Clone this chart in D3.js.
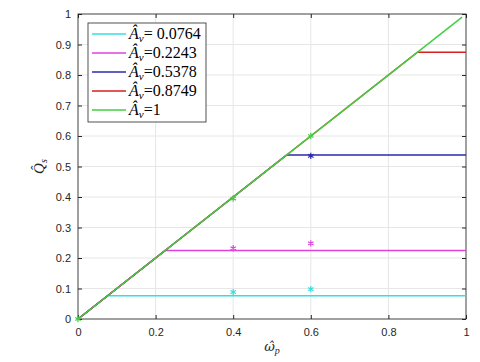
<!DOCTYPE html>
<html>
<head>
<meta charset="utf-8">
<script src="https://cdn.jsdelivr.net/npm/d3@7"></script>
<style>
  body { margin: 0; background: #fff; }
  .tick text { font-family: "Liberation Sans", Arial, sans-serif; font-size: 11px; fill: #262626; }
  .math { font-family: "Liberation Serif", "DejaVu Serif", serif; font-style: italic; }
</style>
</head>
<body>
<svg class="chart"></svg>
<script>
// amplitude levels of each curve
const levels = [0.0764, 0.2243, 0.5378, 0.8749, 1];
const labels = ["= 0.0764", "=0.2243", "=0.5378", "=0.8749", "=1"];
const colors = ["#33e0e0", "#e040e0", "#2a2ab0", "#d42020", "#40d040"];
// starred measurements [x, y, series]
const markX = [0.4, 0.6, 0.4, 0.6, 0.6, 0, 0.4, 0.6];
const markY = [0.088, 0.098, 0.232, 0.248, 0.535, 0, 0.395, 0.6];
const markS = [0, 0, 1, 1, 2, 4, 4, 4];
const xTicks = [0, 0.2, 0.4, 0.6, 0.8, 1];
const yTicks = [0, 0.1, 0.2, 0.3, 0.4, 0.5, 0.6, 0.7, 0.8, 0.9, 1];

const
  margin = {top: 14, right: 14, bottom: 43, left: 78},
  width = 388,
  height = 305;

const xScale = d3.scaleLinear().domain([0, 1]).range([0, width]);
const yScale = d3.scaleLinear().domain([0, 1]).range([height, 0]);

const svg = d3.select(".chart")
  .attr("width", 480)
  .attr("height", 362);

const g = svg.append("g")
  .attr("transform", `translate(${margin.left},${margin.top})`);

// grid
g.append("g").selectAll("line").data(xTicks).enter().append("line")
  .attr("x1", d => xScale(d)).attr("x2", d => xScale(d))
  .attr("y1", 0).attr("y2", height)
  .attr("stroke", "#e6e6e6");
g.append("g").selectAll("line").data(yTicks).enter().append("line")
  .attr("y1", d => yScale(d)).attr("y2", d => yScale(d))
  .attr("x1", 0).attr("x2", width)
  .attr("stroke", "#e6e6e6");

// axes with inward ticks
const styleAxis = sel => {
  sel.select(".domain").remove();
  sel.selectAll(".tick line").attr("stroke", "#262626");
};
g.append("g").attr("transform", `translate(0,${height})`)
  .call(d3.axisBottom(xScale).tickValues(xTicks).tickFormat(d3.format("")).tickSizeInner(-4).tickPadding(9))
  .call(styleAxis);
g.append("g").call(d3.axisTop(xScale).tickValues(xTicks).tickFormat("").tickSizeInner(-4)).call(styleAxis);
g.append("g")
  .call(d3.axisLeft(yScale).tickValues(yTicks).tickFormat(d3.format("")).tickSizeInner(-4).tickPadding(7))
  .call(styleAxis);
g.append("g").attr("transform", `translate(${width},0)`)
  .call(d3.axisRight(yScale).tickValues(yTicks).tickFormat("").tickSizeInner(-4)).call(styleAxis);

g.append("rect").attr("width", width).attr("height", height)
  .attr("fill", "none").attr("stroke", "#262626").attr("stroke-width", 0.8);

// curves: linear up to level, then flat
const line = d3.line().x(d => xScale(d[0])).y(d => yScale(d[1]));
levels.forEach((a, i) => {
  const pts = a >= 1 ? [[0, 0], [0.99, 0.99]] : [[0, 0], [a, a], [1, a]];
  g.append("path").attr("d", line(pts))
    .attr("fill", "none").attr("stroke", colors[i]).attr("stroke-width", 1.5);
});

// asterisk markers
const star = d3.symbol().type(d3.symbolAsterisk).size(28);
markX.forEach((x, i) => {
  g.append("path").attr("d", star())
    .attr("transform", `translate(${xScale(x)},${yScale(markY[i])})`)
    .attr("fill", "none").attr("stroke", colors[markS[i]]).attr("stroke-width", 1.2);
});

// legend
const leg = svg.append("g").attr("transform", "translate(88,23)");
leg.append("rect").attr("width", 118).attr("height", 99)
  .attr("fill", "#fff").attr("stroke", "#262626").attr("stroke-width", 0.8);
labels.forEach((t, i) => {
  const y = 11 + i * 19;
  leg.append("line").attr("x1", 4).attr("x2", 38).attr("y1", y).attr("y2", y)
    .attr("stroke", colors[i]).attr("stroke-width", 1.5);
  const tx = leg.append("text").attr("x", 41).attr("y", y + 5)
    .attr("font-family", "'Liberation Serif', serif").attr("font-size", 16).attr("fill", "#000");
  tx.append("tspan").attr("font-style", "italic").text("Â");
  tx.append("tspan").attr("font-style", "italic").attr("font-size", 11).attr("dy", 3).text("v");
  tx.append("tspan").attr("dy", -3).text(t);
});

// axis labels
const xl = svg.append("text").attr("x", margin.left + width / 2).attr("y", 351)
  .attr("text-anchor", "middle").attr("font-style", "italic").attr("fill", "#262626");
xl.append("tspan").attr("font-family", "'DejaVu Serif', serif").attr("font-size", 13).text("ω\u0302");
xl.append("tspan").attr("font-family", "'Liberation Serif', serif").attr("font-size", 10).attr("dy", 3).text("p");

const yl = svg.append("text").attr("transform", `translate(44,${margin.top + height / 2}) rotate(-90)`)
  .attr("text-anchor", "middle").attr("class", "math").attr("font-size", 15).attr("fill", "#262626");
yl.append("tspan").text("Q\u0302");
yl.append("tspan").attr("font-size", 10).attr("dy", 3).text("s");
</script>
</body>
</html>
